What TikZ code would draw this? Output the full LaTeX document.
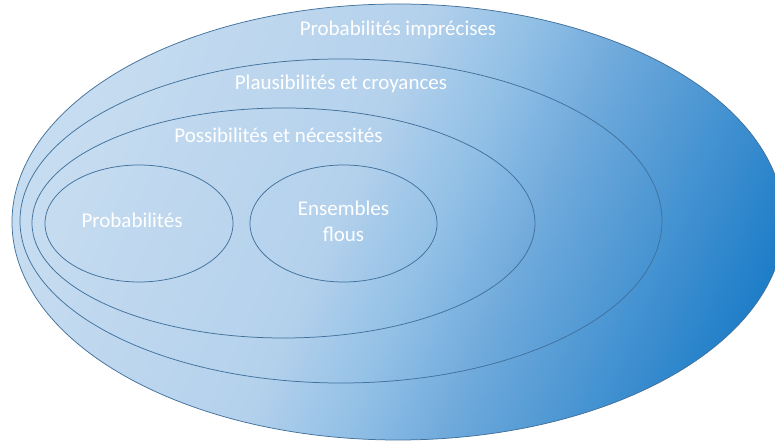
\documentclass[tikz,border=0pt]{standalone}
\usepackage{fontspec}
\setmainfont{Carlito}
\usetikzlibrary{calc,shapes.geometric,positioning}

\definecolor{edgeblue}{HTML}{41719C}
\definecolor{paleA}{HTML}{C6DCF0}
\definecolor{paleB}{HTML}{B4D1EC}
\definecolor{midA}{HTML}{92C0E6}
\definecolor{midB}{HTML}{6EA9DB}
\definecolor{deepblue}{HTML}{1F7EC8}

\pgfdeclarehorizontalshading{blueglow}{100bp}{color(0bp)=(paleA); color(25bp)=(paleA); color(45.5bp)=(paleB); color(53bp)=(midA); color(60bp)=(midB); color(77bp)=(deepblue); color(100bp)=(deepblue)}

\tikzset{
	set/.style={ellipse, draw=edgeblue, line width=0.75pt, inner sep=0pt},
	setname/.style={text=white, font=\fontsize{21}{26}\selectfont, align=center}
}

\begin{document}
\begin{tikzpicture}[x=1pt,y=1pt]
		
		%Page frame
		\useasboundingbox (0,0) rectangle (775,441);
		
		%Nested sets
		\node[set, shade, shading=blueglow, shading angle=-24, minimum width=772, minimum height=436] (imprecise) at (398,219) {};
		\node[set, minimum width=642, minimum height=324] (belief) at (341,220) {};
		\node[set, minimum width=503, minimum height=230] (possib) at (283.5,218) {};
		\node[set, minimum width=188, minimum height=117] (proba) at (139,217.5) {};
		\node[set, minimum width=187, minimum height=117] (fuzzy) at (343.5,217.5) {};
		
		%Names of the sets
		\node[setname] (impreciseName) at ($(imprecise.north)+(0,-26)$) {Probabilités imprécises};
		\node[setname] (beliefName) at ($(belief.north)+(0,-25)$) {Plausibilités et croyances};
		\node[setname] (possibName) at ($(possib.north)+(-5,-28)$) {Possibilités et nécessités};
		\node[setname] (probaName) at ($(proba.center)+(-7,3)$) {Probabilités};
		\node[setname] (fuzzyName) at ($(fuzzy.center)+(0,2)$) {Ensembles\\flous};
	\end{tikzpicture}
\end{document}
